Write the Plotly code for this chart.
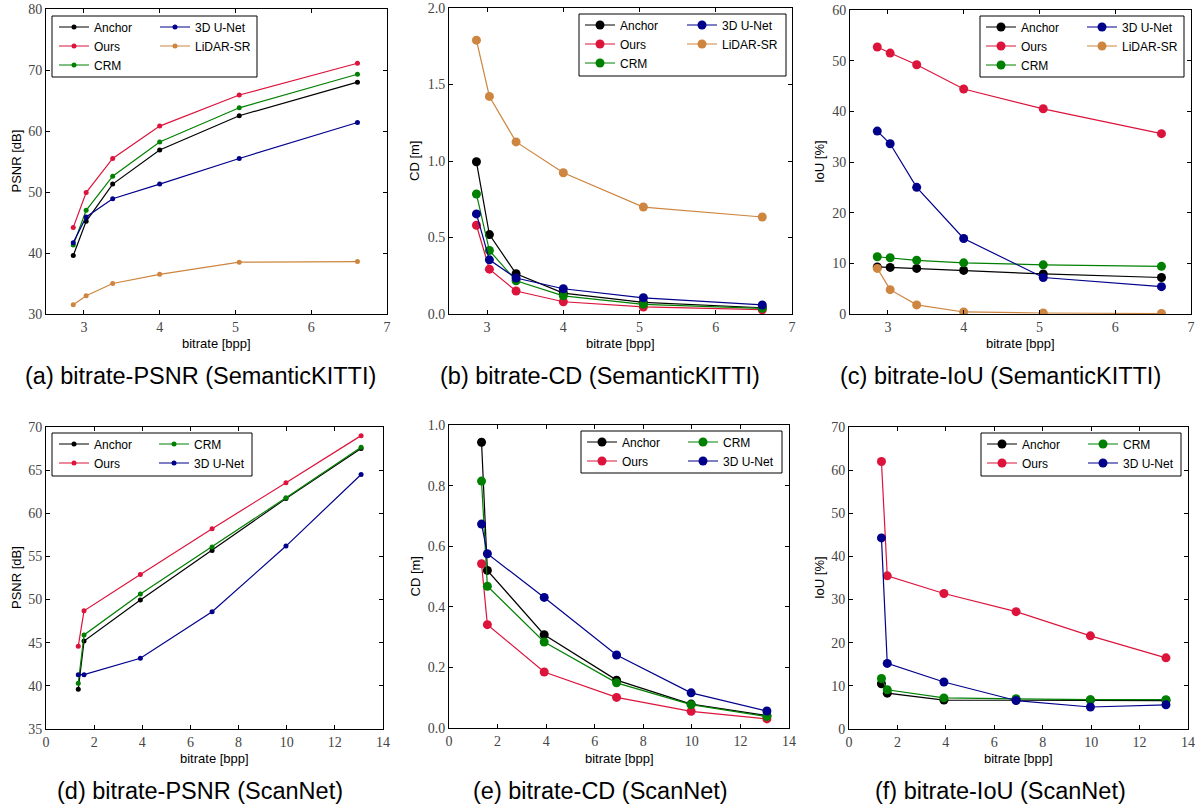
import plotly.graph_objects as go

W, H = 1198, 807

# ---------------- data ----------------
kitti_bpp = [2.86, 3.03, 3.38, 4.00, 5.05, 6.61]

kitti_psnr_anchor = [39.6, 45.2, 51.3, 56.9, 62.5, 68.0]
kitti_psnr_ours = [44.2, 49.9, 55.5, 60.8, 65.9, 71.1]
kitti_psnr_crm = [41.3, 47.0, 52.6, 58.2, 63.8, 69.3]
kitti_psnr_unet = [41.7, 45.9, 48.9, 51.3, 55.5, 61.4]
kitti_psnr_lidarsr = [31.5, 33.0, 35.0, 36.5, 38.5, 38.6]

kitti_cd_anchor = [0.995, 0.519, 0.263, 0.137, 0.076, 0.041]
kitti_cd_ours = [0.580, 0.293, 0.150, 0.080, 0.046, 0.028]
kitti_cd_crm = [0.784, 0.415, 0.217, 0.119, 0.063, 0.037]
kitti_cd_unet = [0.654, 0.354, 0.235, 0.165, 0.106, 0.059]
kitti_cd_lidarsr = [1.790, 1.422, 1.125, 0.923, 0.699, 0.634]

kitti_iou_anchor = [9.3, 9.2, 9.0, 8.6, 7.9, 7.2]
kitti_iou_ours = [52.7, 51.5, 49.2, 44.4, 40.5, 35.6]
kitti_iou_crm = [11.3, 11.1, 10.6, 10.1, 9.7, 9.4]
kitti_iou_unet = [36.1, 33.6, 25.0, 14.9, 7.2, 5.4]
kitti_iou_lidarsr = [9.0, 4.8, 1.8, 0.4, 0.2, 0.1]

scannet_bpp = [1.34, 1.58, 3.92, 6.90, 9.97, 13.09]

scannet_psnr_anchor = [39.6, 45.2, 49.95, 55.7, 61.7, 67.5]
scannet_psnr_ours = [44.6, 48.7, 52.9, 58.2, 63.55, 69.0]
scannet_psnr_crm = [40.3, 45.9, 50.65, 56.1, 61.8, 67.65]
scannet_psnr_unet = [41.3, 41.3, 43.2, 48.6, 56.2, 64.5]

scannet_cd_anchor = [0.943, 0.520, 0.308, 0.158, 0.079, 0.041]
scannet_cd_ours = [0.542, 0.341, 0.185, 0.101, 0.055, 0.030]
scannet_cd_crm = [0.815, 0.468, 0.284, 0.149, 0.077, 0.038]
scannet_cd_unet = [0.673, 0.575, 0.431, 0.241, 0.116, 0.056]

scannet_iou_anchor = [10.5, 8.3, 6.7, 6.7, 6.7, 6.6]
scannet_iou_ours = [62.0, 35.5, 31.4, 27.2, 21.6, 16.5]
scannet_iou_crm = [11.7, 9.1, 7.2, 7.0, 6.8, 6.8]
scannet_iou_unet = [44.3, 15.2, 10.9, 6.6, 5.1, 5.6]

captions = [
    "(a) bitrate-PSNR (SemanticKITTI)",
    "(b) bitrate-CD (SemanticKITTI)",
    "(c) bitrate-IoU (SemanticKITTI)",
    "(d) bitrate-PSNR (ScanNet)",
    "(e) bitrate-CD (ScanNet)",
    "(f) bitrate-IoU (ScanNet)",
]
y_titles = ["PSNR [dB]", "CD [m]", "IoU [%]", "PSNR [dB]", "CD [m]", "IoU [%]"]
x_title = "bitrate [bpp]"

COLORS = {
    "Anchor": "#000000",
    "Ours": "#DC143C",
    "CRM": "#008000",
    "3D U-Net": "#00008B",
    "LiDAR-SR": "#CD853F",
}

# ---------------- layout of panels (pixel geometry) ----------------
panels = [
    dict(x=kitti_bpp,
         series=[("Anchor", kitti_psnr_anchor, 1), ("Ours", kitti_psnr_ours, 1), ("CRM", kitti_psnr_crm, 1),
                 ("3D U-Net", kitti_psnr_unet, 2), ("LiDAR-SR", kitti_psnr_lidarsr, 2)],
         px=(46, 387), py=(9, 314), xr=[2.5, 7], yr=[30, 80], xd=1, yd=10, yfmt="d", ms=5,
         leg=(54, 155, 12.5), box=(52, 257, 16, 77), ytx=16, cap=(200, 376), xt=343),
    dict(x=kitti_bpp,
         series=[("Anchor", kitti_cd_anchor, 1), ("Ours", kitti_cd_ours, 1), ("CRM", kitti_cd_crm, 1),
                 ("3D U-Net", kitti_cd_unet, 2), ("LiDAR-SR", kitti_cd_lidarsr, 2)],
         px=(449, 792), py=(8, 314), xr=[2.5, 7], yr=[0, 2.0], xd=1, yd=0.5, yfmt=".1f", ms=9,
         leg=(580, 682, 10.5), box=(579, 786, 14, 76), ytx=415, cap=(600, 376), xt=343),
    dict(x=kitti_bpp,
         series=[("Anchor", kitti_iou_anchor, 1), ("Ours", kitti_iou_ours, 1), ("CRM", kitti_iou_crm, 1),
                 ("3D U-Net", kitti_iou_unet, 2), ("LiDAR-SR", kitti_iou_lidarsr, 2)],
         px=(850, 1191), py=(10, 314), xr=[2.5, 7], yr=[0, 60], xd=1, yd=10, yfmt="d", ms=9,
         leg=(981, 1082, 12.5), box=(980, 1184, 16, 77), ytx=820, cap=(1000, 376), xt=343),
    dict(x=scannet_bpp,
         series=[("Anchor", scannet_psnr_anchor, 1), ("Ours", scannet_psnr_ours, 1),
                 ("CRM", scannet_psnr_crm, 2), ("3D U-Net", scannet_psnr_unet, 2)],
         px=(46, 383), py=(427, 729), xr=[0, 14], yr=[35, 70], xd=2, yd=5, yfmt="d", ms=5,
         leg=(54, 154, 429.5), box=(52, 252, 433, 476), ytx=16, cap=(200, 791), xt=758),
    dict(x=scannet_bpp,
         series=[("Anchor", scannet_cd_anchor, 1), ("Ours", scannet_cd_ours, 1),
                 ("CRM", scannet_cd_crm, 2), ("3D U-Net", scannet_cd_unet, 2)],
         px=(449, 789), py=(425, 728), xr=[0, 14], yr=[0, 1.0], xd=2, yd=0.2, yfmt=".1f", ms=9,
         leg=(582, 683, 427.5), box=(581, 782, 431, 473), ytx=415, cap=(600, 791), xt=758),
    dict(x=scannet_bpp,
         series=[("Anchor", scannet_iou_anchor, 1), ("Ours", scannet_iou_ours, 1),
                 ("CRM", scannet_iou_crm, 2), ("3D U-Net", scannet_iou_unet, 2)],
         px=(849, 1188), py=(427, 729), xr=[0, 14], yr=[0, 70], xd=2, yd=10, yfmt="d", ms=9,
         leg=(982, 1083, 429.5), box=(981, 1181, 433, 476), ytx=819, cap=(1000, 791), xt=758),
]

fx = lambda p: p / W
fy = lambda p: 1 - p / H

fig = go.Figure()
layout = dict(
    width=W, height=H,
    margin=dict(l=0, r=0, t=0, b=0),
    paper_bgcolor="white", plot_bgcolor="white",
    showlegend=True,
    hovermode=False,
    font=dict(family="Liberation Sans", color="black"),
)
annotations = []
shapes = []
tick_font = dict(family="Liberation Serif", size=14, color="#444444")

for i, p in enumerate(panels):
    k = i + 1
    xa = "x" if k == 1 else f"x{k}"
    ya = "y" if k == 1 else f"y{k}"
    leg_ids = [f"legend{2 * i + 1}" if 2 * i + 1 > 1 else "legend", f"legend{2 * i + 2}"]
    for name, vals, col in p["series"]:
        fig.add_trace(go.Scatter(
            x=p["x"], y=vals, name=name, mode="lines+markers",
            line=dict(color=COLORS[name], width=1.2),
            marker=dict(color=COLORS[name], size=p["ms"], line=dict(width=0)),
            xaxis=xa, yaxis=ya, legend=leg_ids[col - 1], hoverinfo="skip",
        ))
    axcommon = dict(showline=True, linecolor="black", linewidth=1, mirror="ticks",
                    ticks="inside", ticklen=4, tickwidth=1, tickcolor="black",
                    showgrid=False, zeroline=False, tickfont=tick_font, automargin=False,
                    ticklabeloverflow="allow")
    layout["xaxis" if k == 1 else f"xaxis{k}"] = dict(
        domain=[fx(p["px"][0]), fx(p["px"][1])], anchor=ya, range=p["xr"],
        tick0=0, dtick=p["xd"], **axcommon)
    layout["yaxis" if k == 1 else f"yaxis{k}"] = dict(
        domain=[fy(p["py"][1]), fy(p["py"][0])], anchor=xa, range=p["yr"],
        tick0=0, dtick=p["yd"], tickformat=p["yfmt"], **axcommon)
    # legends (two columns)
    L1, L2, T = p["leg"]
    for lid, L in zip(leg_ids, (L1, L2)):
        layout[lid] = dict(x=fx(L), y=fy(T), xanchor="left", yanchor="top",
                           orientation="v", bgcolor="rgba(0,0,0,0)", borderwidth=0,
                           font=dict(family="Liberation Sans", size=12, color="black"),
                           tracegroupgap=0)
    bx0, bx1, by0, by1 = p["box"]
    shapes.append(dict(type="rect", xref="paper", yref="paper",
                       x0=fx(bx0), x1=fx(bx1), y0=fy(by1), y1=fy(by0),
                       line=dict(color="black", width=1), fillcolor="white", layer="above"))
    # axis titles
    cx = (p["px"][0] + p["px"][1]) / 2
    cy = (p["py"][0] + p["py"][1]) / 2
    annotations.append(dict(text=x_title, xref="paper", yref="paper", x=fx(cx), y=fy(p["xt"]),
                            xanchor="center", yanchor="middle", showarrow=False,
                            font=dict(family="Liberation Sans", size=13, color="black")))
    annotations.append(dict(text=y_titles[i], xref="paper", yref="paper", x=fx(p["ytx"]), y=fy(cy),
                            xanchor="center", yanchor="middle", showarrow=False, textangle=-90,
                            font=dict(family="Liberation Sans", size=13, color="black")))
    annotations.append(dict(text=captions[i], xref="paper", yref="paper", x=fx(p["cap"][0]), y=fy(p["cap"][1]),
                            xanchor="center", yanchor="middle", showarrow=False,
                            font=dict(family="Liberation Sans", size=23.5, color="black")))

layout["annotations"] = annotations
layout["shapes"] = shapes
fig.update_layout(**layout)
fig.write_html("out.html", config={"displayModeBar": False},
               post_script="document.body.style.margin='0';document.body.style.overflow='hidden';")
